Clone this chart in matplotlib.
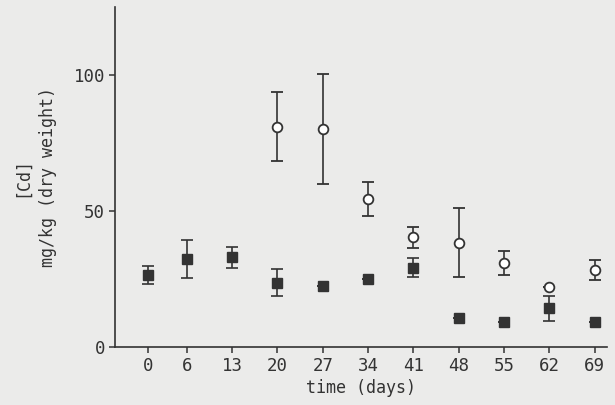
import numpy as np
import matplotlib
matplotlib.use('Agg')
import matplotlib.pyplot as plt

# Cd concentration over time (mg/kg dry weight)
days = [0, 6, 13, 20, 27, 34, 41, 48, 55, 62, 69]

# filled squares
sq_days = [0, 6, 13, 20, 27, 34, 41, 48, 55, 62, 69]
sq_mean = [26.5, 32.4, 33.0, 23.6, 22.5, 25.0, 29.2, 10.8, 9.1, 14.2, 9.3]
sq_err = [3.4, 7.0, 3.9, 5.0, 0.0, 0.0, 3.6, 0.0, 0.0, 4.5, 0.0]

# open circles
ci_days = [20, 27, 34, 41, 48, 55, 62, 69]
ci_mean = [81.0, 80.0, 54.4, 40.3, 38.4, 31.0, 21.9, 28.3]
ci_err = [12.8, 20.2, 6.3, 4.0, 12.8, 4.4, 0.0, 3.6]

ink = '#333333'
bg = '#ebebea'

plt.rcParams['font.family'] = 'DejaVu Sans Mono'

fig = plt.figure(figsize=(6.15, 4.05), dpi=100, facecolor=bg)
ax = fig.add_axes([0.187, 0.143, 0.80, 0.84], facecolor=bg)

ax.errorbar(sq_days, sq_mean, yerr=sq_err, fmt='s', color=ink, ecolor=ink,
            markersize=7, elinewidth=1.2, capsize=4, capthick=1.2)
ax.errorbar(ci_days, ci_mean, yerr=ci_err, fmt='o', color=ink, ecolor=ink,
            markerfacecolor='white', markeredgewidth=1.3,
            markersize=7, elinewidth=1.2, capsize=4, capthick=1.2)

ax.set_xlim(-5.1, 70.9)
ax.set_ylim(0, 125)
ax.set_xticks(days)
ax.set_yticks([0, 50, 100])

for s in ['top', 'right']:
    ax.spines[s].set_visible(False)
for s in ['left', 'bottom']:
    ax.spines[s].set_color(ink)
    ax.spines[s].set_linewidth(1.2)

ax.tick_params(colors=ink, labelsize=12.5, length=4, width=1.1, direction='out', pad=3)

ax.set_xlabel('time (days)', fontsize=12, color=ink, labelpad=3)
ax.set_ylabel('[Cd]\nmg/kg (dry weight)', fontsize=12, color=ink,
              labelpad=12, linespacing=1.55)

fig.savefig('out.png', dpi=100, facecolor=bg)
